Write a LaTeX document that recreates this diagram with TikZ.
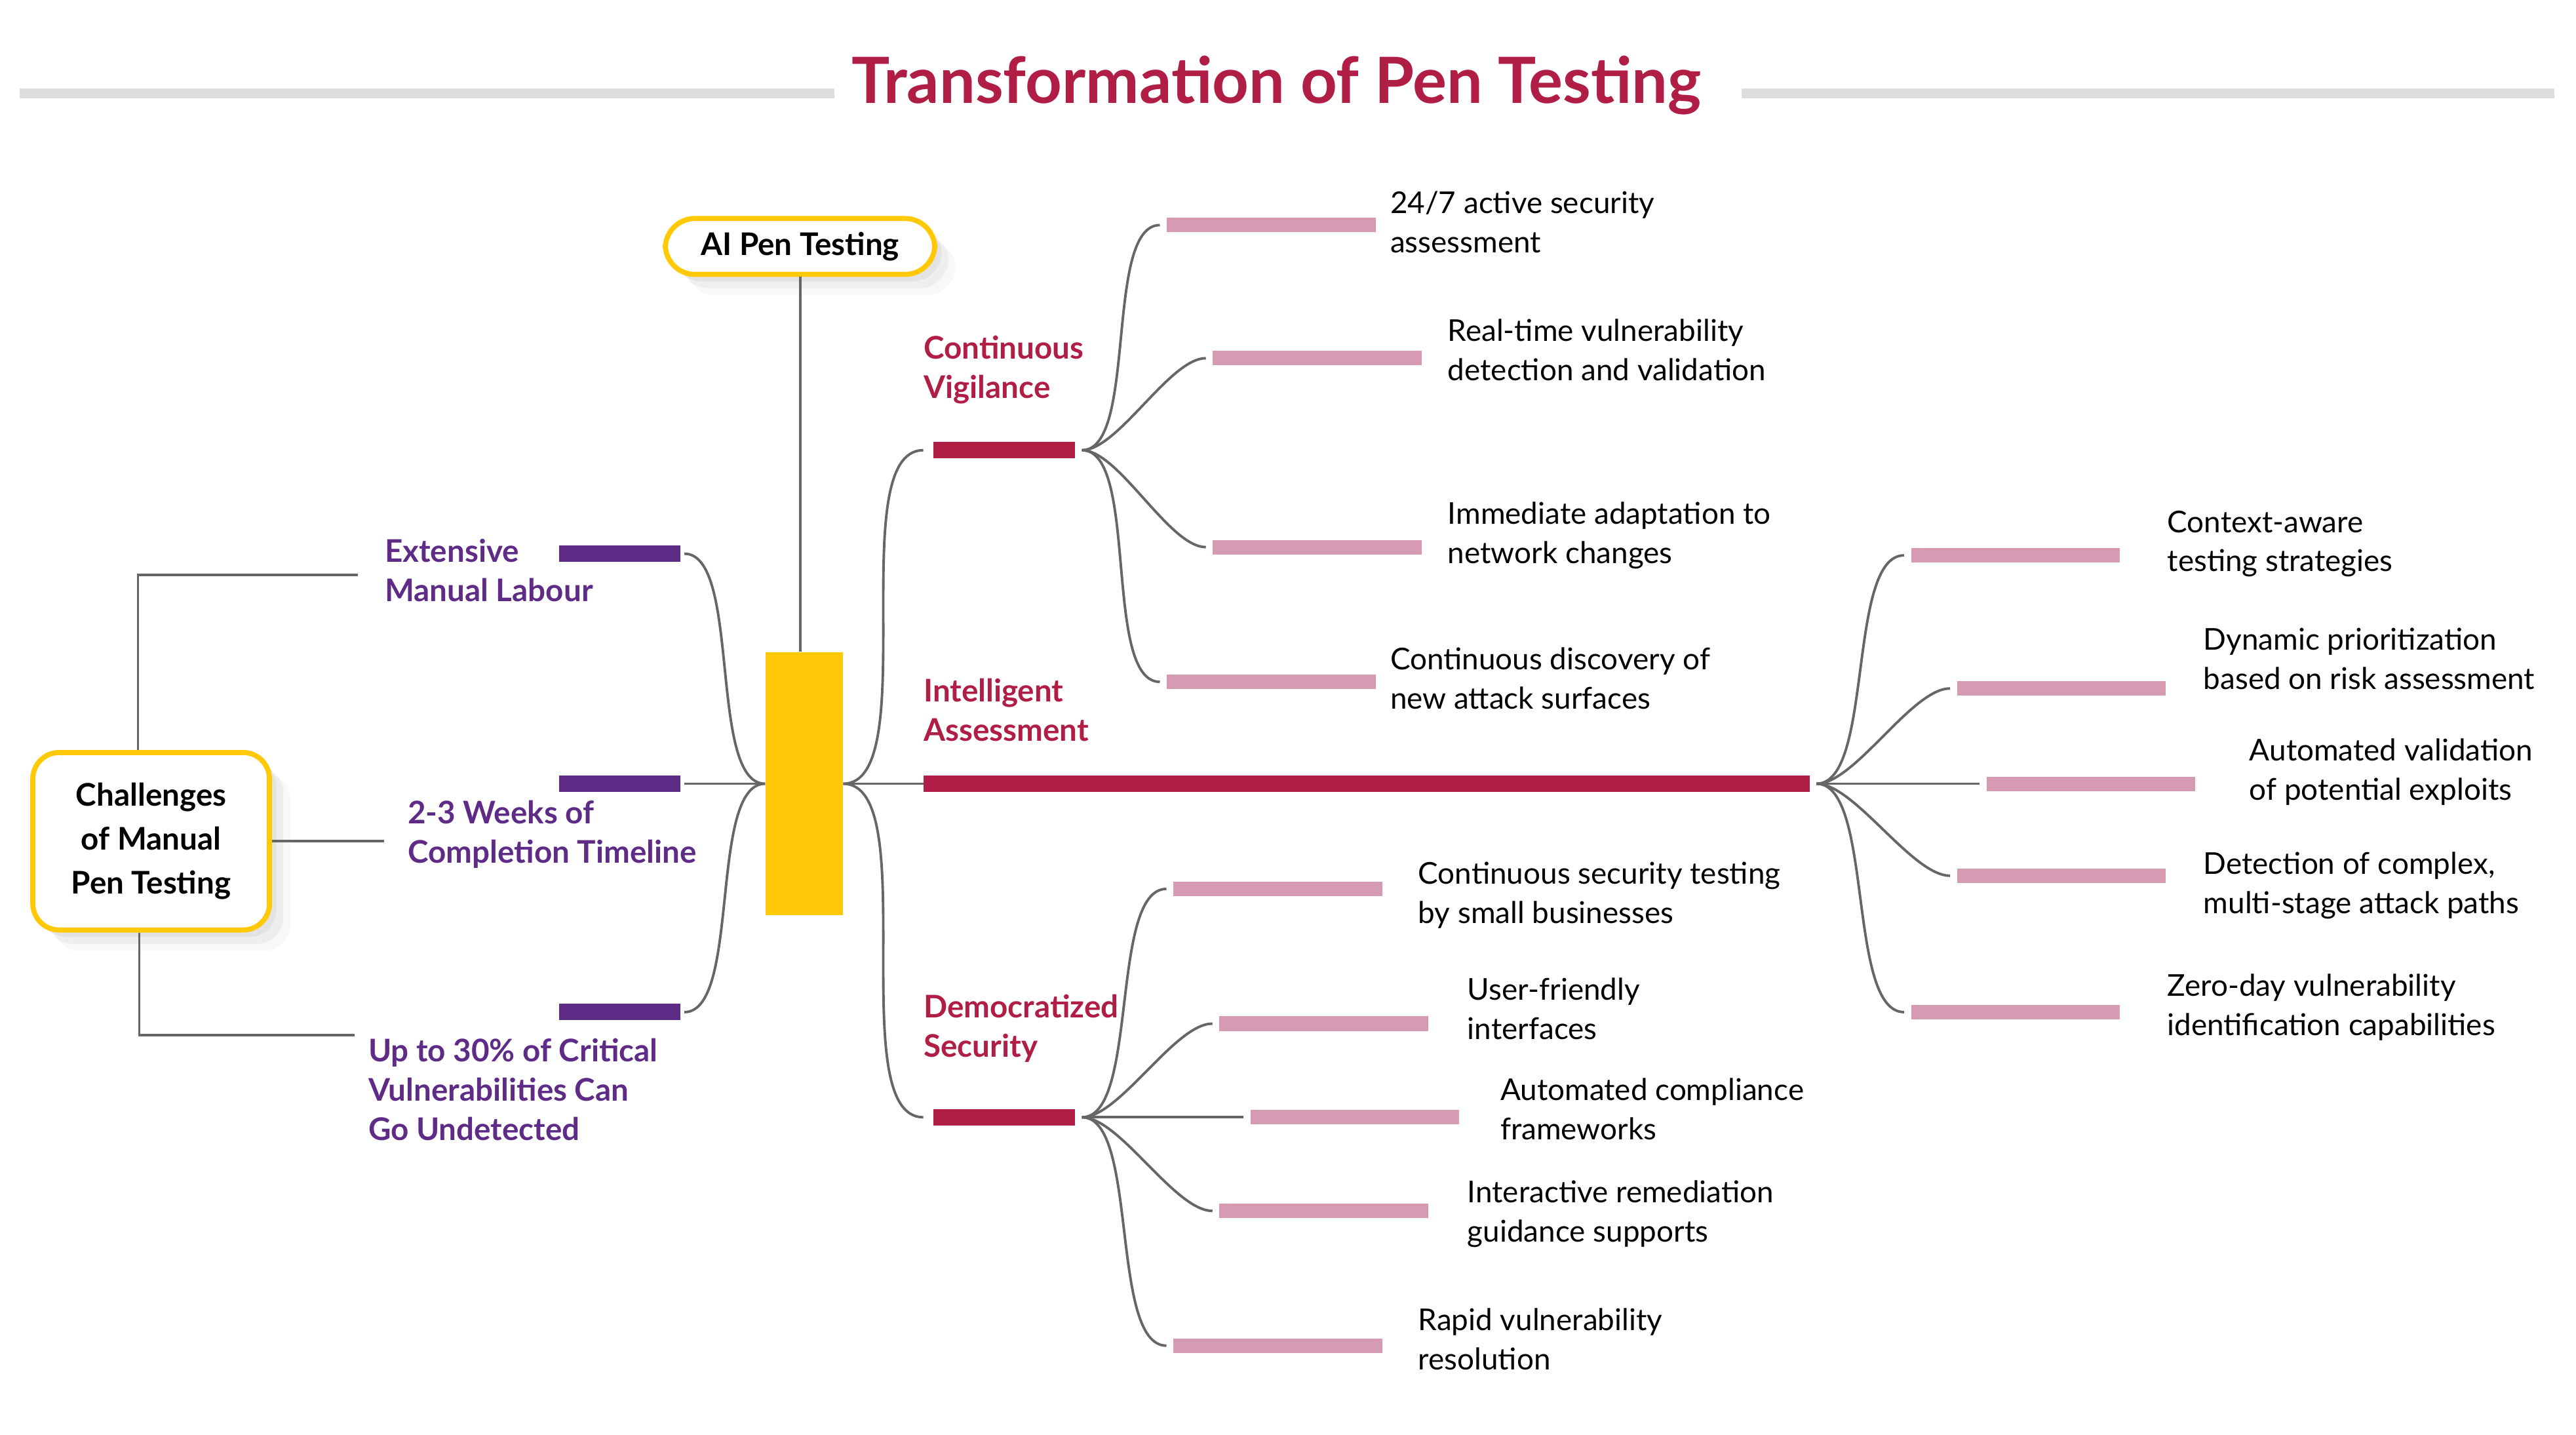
\documentclass[tikz,border=0pt]{standalone}
\usepackage{fontspec}
\setmainfont{Lato}
\usetikzlibrary{shadows}

\definecolor{crimson}{HTML}{B01E45}
\definecolor{deeppurple}{HTML}{5E2C87}
\definecolor{softpink}{HTML}{D69AB3}
\definecolor{sunyellow}{HTML}{FFC907}
\definecolor{linegray}{HTML}{666666}
\definecolor{rulegray}{HTML}{DDDDDD}

\begin{document}
\begin{tikzpicture}[x=0.025cm,y=-0.025cm,
    link/.style={draw=linegray,line width=1.1pt,looseness=0.6},
    rule/.style={draw=rulegray,line width=0.15cm},
    bar/.style={anchor=west,inner sep=0pt,minimum height=0.25cm},
    purplebar/.style={bar,fill=deeppurple,minimum width=1.85cm},
    crimsonbar/.style={bar,fill=crimson,minimum width=2.15cm},
    pinkbar/.style={bar,fill=softpink,minimum width=3.175cm,minimum height=0.22cm},
    txt/.style={anchor=west,align=left,inner sep=0pt,font=\fontsize{13}{17}\selectfont},
    purplelabel/.style={txt,text=deeppurple,font=\fontsize{13.5}{17}\selectfont\bfseries},
    crimsonlabel/.style={txt,text=crimson,font=\fontsize{13.5}{17}\selectfont\bfseries},
    yellowbox/.style={draw=sunyellow,line width=2.2pt,fill=white,align=center,
        font=\fontsize{13.5}{19}\selectfont\bfseries,
        drop shadow={opacity=0.06,shadow xshift=9pt,shadow yshift=-9pt},
        drop shadow={opacity=0.08,shadow xshift=6pt,shadow yshift=-6pt},
        drop shadow={opacity=0.10,shadow xshift=3pt,shadow yshift=-3pt}}]
    \useasboundingbox (0,0) rectangle (1568,873);

    % title
    \node (title) at (777,52) [text=crimson,inner sep=0pt,font=\fontsize{27.6}{30}\selectfont\bfseries] {Transformation of Pen Testing};
    \draw[rule] (12,57) -- (508,57);
    \draw[rule] (1060,57) -- (1555,57);

    % challenges side
    \node (chal) at (92,512) [yellowbox,rounded corners=0.4cm,minimum width=3.6cm,minimum height=2.7cm] {Challenges\\of Manual\\Pen Testing};
    \coordinate (el1) at (218,350);
    \coordinate (el2) at (234,512);
    \coordinate (el3) at (216,630);
    \draw[link] ([xshift=-0.2cm]chal.north) |- (el1);
    \draw[link] (chal.east) -- (el2);
    \draw[link] ([xshift=-0.18cm]chal.south) |- (el3);

    \node (lab1) at (234,347) [purplelabel] {Extensive\\Manual Labour};
    \node (lab2) at (248,508) [purplelabel] {2-3 Weeks of\\Completion Timeline};
    \node (lab3) at (224,663) [purplelabel] {Up to 30\% of Critical\\Vulnerabilities Can\\Go Undetected};

    \node (p1) at (340,337) [purplebar] {};
    \node (p2) at (340,477) [purplebar] {};
    \node (p3) at (340,616) [purplebar] {};

    % core and AI box
    \node (core) at (489.5,477) [fill=sunyellow,inner sep=0pt,minimum width=1.175cm,minimum height=4cm] {};
    \node (ai) at (487,150) [yellowbox,rounded corners=0.45cm,minimum width=4.1cm,minimum height=0.85cm] {AI Pen Testing};
    \draw[link] (ai.south) -- (ai.south |- core.north);

    \draw[link] ([xshift=0.05cm]p1.east) to[out=0,in=180] (core.west);
    \draw[link] ([xshift=0.05cm]p2.east) -- (core.west);
    \draw[link] ([xshift=0.05cm]p3.east) to[out=0,in=180] (core.west);

    % three themes
    \node (cv) at (568,274) [crimsonbar] {};
    \node (ia) at (562,477) [crimsonbar,minimum width=13.475cm] {};
    \node (ds) at (568,680) [crimsonbar] {};
    \node (cvt) at (562,225) [crimsonlabel] {Continuous\\Vigilance};
    \node (iat) at (562,432) [crimsonlabel] {Intelligent\\Assessment};
    \node (dst) at (562,626) [crimsonlabel] {Democratized\\Security};

    \draw[link] (core.east) to[out=0,in=180] ([xshift=-0.15cm]cv.west);
    \draw[link] (core.east) -- (ia.west);
    \draw[link] (core.east) to[out=0,in=180] ([xshift=-0.15cm]ds.west);

    % continuous vigilance
    \node (cv1) at (710,137) [pinkbar] {};
    \node (cv2) at (738,218) [pinkbar] {};
    \node (cv3) at (738,333) [pinkbar] {};
    \node (cv4) at (710,415) [pinkbar] {};
    \node (cv1t) at (846,135) [txt] {24/7 active security\\assessment};
    \node (cv2t) at (881,213) [txt] {Real-time vulnerability\\detection and validation};
    \node (cv3t) at (881,326) [txt] {Immediate adaptation to\\network changes};
    \node (cv4t) at (846,413) [txt] {Continuous discovery of\\new attack surfaces};
    \draw[link] ([xshift=0.1cm]cv.east) to[out=0,in=180] ([xshift=-0.1cm]cv1.west);
    \draw[link] ([xshift=0.1cm]cv.east) to[out=0,in=180] ([xshift=-0.1cm]cv2.west);
    \draw[link] ([xshift=0.1cm]cv.east) to[out=0,in=180] ([xshift=-0.1cm]cv3.west);
    \draw[link] ([xshift=0.1cm]cv.east) to[out=0,in=180] ([xshift=-0.1cm]cv4.west);

    % intelligent assessment
    \node (ia1) at (1163,338) [pinkbar] {};
    \node (ia2) at (1191,419) [pinkbar] {};
    \node (ia3) at (1209,477) [pinkbar] {};
    \node (ia4) at (1191,533) [pinkbar] {};
    \node (ia5) at (1163,616) [pinkbar] {};
    \node (ia1t) at (1319,331) [txt] {Context-aware\\testing strategies};
    \node (ia2t) at (1341,401) [txt] {Dynamic prioritization\\based on risk assessment};
    \node (ia3t) at (1369,470) [txt] {Automated validation\\of potential exploits};
    \node (ia4t) at (1341,539) [txt] {Detection of complex,\\multi-stage attack paths};
    \node (ia5t) at (1319,613) [txt] {Zero-day vulnerability\\identification capabilities};
    \draw[link] ([xshift=0.1cm]ia.east) to[out=0,in=180] ([xshift=-0.1cm]ia1.west);
    \draw[link] ([xshift=0.1cm]ia.east) to[out=0,in=180] ([xshift=-0.1cm]ia2.west);
    \draw[link] ([xshift=0.1cm]ia.east) -- ([xshift=-0.1cm]ia3.west);
    \draw[link] ([xshift=0.1cm]ia.east) to[out=0,in=180] ([xshift=-0.1cm]ia4.west);
    \draw[link] ([xshift=0.1cm]ia.east) to[out=0,in=180] ([xshift=-0.1cm]ia5.west);

    % democratized security
    \node (ds1) at (714,541) [pinkbar] {};
    \node (ds2) at (742,623) [pinkbar] {};
    \node (ds3) at (761,680) [pinkbar] {};
    \node (ds4) at (742,737) [pinkbar] {};
    \node (ds5) at (714,819) [pinkbar] {};
    \node (ds1t) at (863,545) [txt] {Continuous security testing\\by small businesses};
    \node (ds2t) at (893,614) [txt] {User-friendly\\interfaces};
    \node (ds3t) at (913,675) [txt] {Automated compliance\\frameworks};
    \node (ds4t) at (893,739) [txt] {Interactive remediation\\guidance supports};
    \node (ds5t) at (863,815) [txt] {Rapid vulnerability\\resolution};
    \draw[link] ([xshift=0.1cm]ds.east) to[out=0,in=180] ([xshift=-0.1cm]ds1.west);
    \draw[link] ([xshift=0.1cm]ds.east) to[out=0,in=180] ([xshift=-0.1cm]ds2.west);
    \draw[link] ([xshift=0.1cm]ds.east) -- ([xshift=-0.1cm]ds3.west);
    \draw[link] ([xshift=0.1cm]ds.east) to[out=0,in=180] ([xshift=-0.1cm]ds4.west);
    \draw[link] ([xshift=0.1cm]ds.east) to[out=0,in=180] ([xshift=-0.1cm]ds5.west);
\end{tikzpicture}
\end{document}
